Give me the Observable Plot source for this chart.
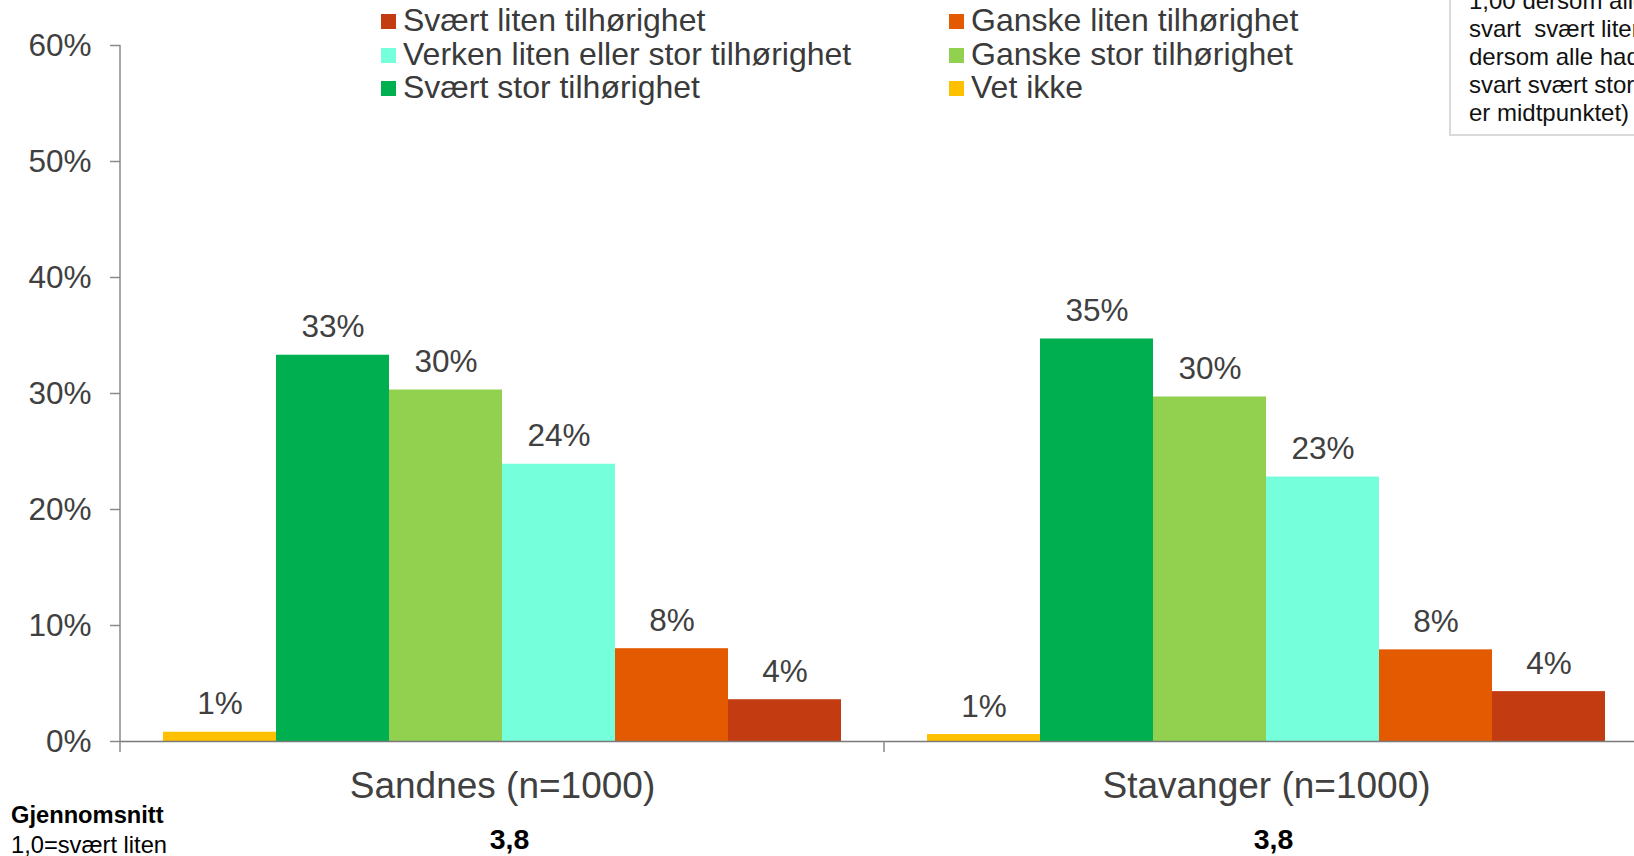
<!DOCTYPE html>
<html>
<head>
<meta charset="utf-8">
<script src="https://cdn.jsdelivr.net/npm/d3@7"></script>
<script src="https://cdn.jsdelivr.net/npm/@observablehq/plot@0.6"></script>
<style>
html, body { margin: 0; padding: 0; background: #fff; }
#wrap { position: relative; width: 1634px; height: 856px; overflow: hidden; font-family: "Liberation Sans", Arial, sans-serif; color: #3a3a3a; background: #fff; }
#chart { position: absolute; left: 0; top: 0; }
#legend { position: absolute; left: 381px; top: 4.3px; display: grid; grid-template-columns: 568px auto; font-size: 32px; line-height: 33.5px; color: #3a3a3a; }
.item { white-space: nowrap; }
.sw { display: inline-block; width: 15px; height: 15px; margin-right: 7px; margin-bottom: 2px; vertical-align: baseline; }
#note { position: absolute; left: 1449px; top: -30px; width: 320px; border: 2px solid #d9d9d9; background: #fff; padding: 15.4px 0 6.8px 18px; font-size: 24px; line-height: 28px; color: #111; white-space: pre; }
#meanlbl { position: absolute; left: 11px; top: 799.6px; font-size: 23.7px; line-height: 30px; color: #000; white-space: nowrap; }
#meanlbl b { font-weight: bold; }
</style>
</head>
<body>
<div id="wrap">
  <div id="chart"></div>
  <div id="legend"></div>
  <div id="note"></div>
  <div id="meanlbl"></div>
</div>
<script>
// ---- data ----
const groups = ["Sandnes (n=1000)", "Stavanger (n=1000)"];
const categories = [
  "Vet ikke",
  "Svært stor tilhørighet",
  "Ganske stor tilhørighet",
  "Verken liten eller stor tilhørighet",
  "Ganske liten tilhørighet",
  "Svært liten tilhørighet"
];
const colors = ["#FFC000", "#00B050", "#92D050", "#75FFDA", "#E35A00", "#C33B10"];
const sandnes = [0.8, 33.3, 30.3, 23.9, 8.0, 3.6];
const stavanger = [0.6, 34.7, 29.7, 22.8, 7.9, 4.3];
const means = [3.8, 3.8];
const yTicks = [0, 10, 20, 30, 40, 50, 60];
const legendOrder = [
  "Svært liten tilhørighet", "Ganske liten tilhørighet",
  "Verken liten eller stor tilhørighet", "Ganske stor tilhørighet",
  "Svært stor tilhørighet", "Vet ikke"
];
const noteLines = [
  "1,00 dersom alle hadde",
  "svart  svært liten og 5,00",
  "dersom alle hadde",
  "svart svært stor tilhørighet",
  "er midtpunktet)"
];
const meanTitle = "Gjennomsnitt";
const meanSub = "1,0=svært liten";

// ---- build ----
const series = [sandnes, stavanger];
const data = groups.flatMap((g, gi) => categories.map((c, ci) => ({group: g, cat: c, value: series[gi][ci]})));
const fmtMean = v => d3.format(".1f")(v).replace(".", ",");

let facetCall = 0;
function separators(index, scales, values, dims) {
  const g = d3.create("svg:g");
  const y0 = dims.height - dims.marginBottom;
  const x0 = dims.marginLeft;
  if (facetCall === 0) {
    g.append("line").attr("x1", x0).attr("x2", x0).attr("y1", dims.marginTop).attr("y2", y0)
      .attr("stroke", "#8a8a8a").attr("stroke-width", 1.5);
  }
  g.append("line").attr("x1", x0).attr("x2", x0).attr("y1", y0).attr("y2", y0 + 11)
    .attr("stroke", "#8a8a8a").attr("stroke-width", 1.5);
  facetCall++;
  return g.node();
}

const chart = Plot.plot({
  width: 1660,
  height: 856,
  marginTop: 45,
  marginBottom: 115,
  marginLeft: 120,
  marginRight: 12,
  style: {fontFamily: "'Liberation Sans', Arial, sans-serif", fontSize: "31px", maxWidth: "none", background: "transparent", overflow: "visible", color: "#404040"},
  fx: {domain: groups, padding: 0, axis: null, label: null},
  x: {domain: categories, paddingInner: 0, paddingOuter: 0.375, axis: null, label: null},
  y: {domain: [0, 60], axis: null},
  color: {domain: categories, range: colors},
  marks: [
    Plot.barY(data, {fx: "group", x: "cat", y: "value", fill: "cat"}),
    Plot.ruleY([0], {stroke: "#7a7a7a", strokeWidth: 1.5}),
    Plot.axisY({ticks: yTicks, tickFormat: d => d + "%", tickSize: 10, tickPadding: 19, fontSize: 31.5, fill: "#404040", stroke: "#8a8a8a", strokeWidth: 1.5, label: null}),
    separators,
    Plot.text(data, {fx: "group", x: "cat", y: "value", text: d => Math.round(d.value) + "%", dy: -28, fontSize: 31.5, fill: "#404040"}),
    Plot.text(groups, {fx: d => d, text: d => d, frameAnchor: "bottom", dy: 56, fontSize: 37, fill: "#404040"}),
    Plot.text(groups, {fx: d => d, text: (d, i) => fmtMean(means[i]), frameAnchor: "bottom", dx: 7, dy: 107, fontSize: 28.5, fontWeight: "bold", fill: "#000"})
  ]
});
document.getElementById("chart").appendChild(chart);

// legend
const colorOf = new Map(categories.map((c, i) => [c, colors[i]]));
const legend = document.getElementById("legend");
for (const c of legendOrder) {
  const it = document.createElement("div");
  it.className = "item";
  const sw = document.createElement("span");
  sw.className = "sw";
  sw.style.background = colorOf.get(c);
  it.appendChild(sw);
  it.appendChild(document.createTextNode(c));
  legend.appendChild(it);
}

// note box
const note = document.getElementById("note");
noteLines.forEach(l => { const d = document.createElement("div"); d.textContent = l; note.appendChild(d); });

// mean label
const ml = document.getElementById("meanlbl");
const b = document.createElement("b"); b.textContent = meanTitle; ml.appendChild(b);
const s = document.createElement("div"); s.textContent = meanSub; ml.appendChild(s);
</script>
</body>
</html>
